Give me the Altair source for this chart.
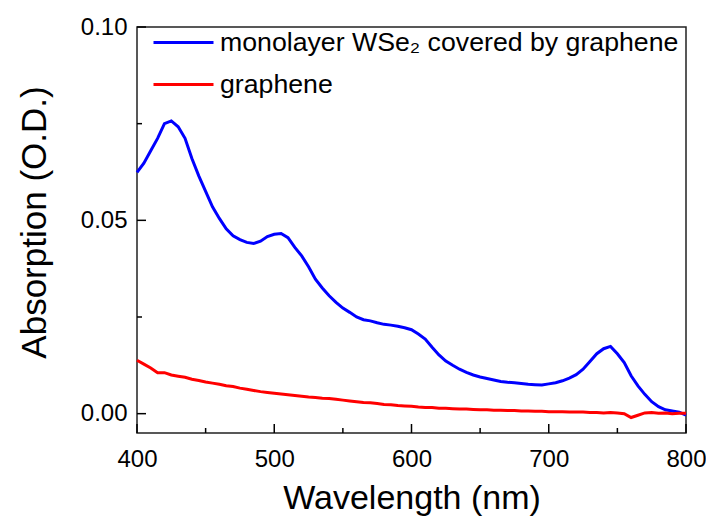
import altair as alt
import pandas as pd

# ---------------- data ----------------
WAVELENGTH = list(range(400, 801, 5))

WSE2_ON_GRAPHENE = [
    0.0624, 0.0648, 0.0680, 0.0712, 0.0750, 0.0757, 0.0742, 0.0712, 0.0660, 0.0615,  # 400-445
    0.0575, 0.0535, 0.0505, 0.0478, 0.0460, 0.0450, 0.0443, 0.0440, 0.0446, 0.0458,  # 450-495
    0.0464, 0.0466, 0.0455, 0.0430, 0.0408, 0.0380, 0.0348, 0.0325, 0.0305, 0.0288,  # 500-545
    0.0273, 0.0262, 0.0250, 0.0243, 0.0240, 0.0235, 0.0231, 0.0229, 0.0226, 0.0222,  # 550-595
    0.0217, 0.0206, 0.0193, 0.0172, 0.0152, 0.0136, 0.0125, 0.0115, 0.0107, 0.0100,  # 600-645
    0.0095, 0.0091, 0.0087, 0.0083, 0.0081, 0.0080, 0.0078, 0.0076, 0.0075, 0.0074,  # 650-695
    0.0077, 0.0080, 0.0085, 0.0092, 0.0101, 0.0115, 0.0135, 0.0155, 0.0168, 0.0174,  # 700-745
    0.0155, 0.0132, 0.0098, 0.0072, 0.0050, 0.0031, 0.0018, 0.0010, 0.0007, 0.0004,  # 750-795
    -0.0004,                                                                          # 800
]

GRAPHENE = [
    0.0138, 0.0128, 0.0118, 0.0106, 0.0106, 0.0100, 0.0097, 0.0094, 0.0089, 0.0086,  # 400-445
    0.0082, 0.0079, 0.0076, 0.0072, 0.0070, 0.0066, 0.0063, 0.0060, 0.0057, 0.0055,  # 450-495
    0.0053, 0.0051, 0.0049, 0.0047, 0.0045, 0.0043, 0.0042, 0.0040, 0.0039, 0.0037,  # 500-545
    0.0035, 0.0033, 0.0031, 0.0029, 0.0028, 0.0026, 0.0024, 0.0023, 0.0021, 0.0020,  # 550-595
    0.0019, 0.0017, 0.0016, 0.0016, 0.0014, 0.0014, 0.0013, 0.0012, 0.0012, 0.0011,  # 600-645
    0.0010, 0.0010, 0.0009, 0.0009, 0.0008, 0.0008, 0.0007, 0.0007, 0.0006, 0.0006,  # 650-695
    0.0005, 0.0005, 0.0005, 0.0004, 0.0004, 0.0004, 0.0003, 0.0003, 0.0002, 0.0003,  # 700-745
    0.0002, 0.0000, -0.0010, -0.0004, 0.0002, 0.0003, 0.0001, 0.0002, 0.0000, 0.0001,  # 750-795
    0.0001,                                                                            # 800
]

SERIES = ["monolayer WSe\u2082 covered by graphene", "graphene"]
COLORS = ["#0000ff", "#ff0000"]

X_DOMAIN = [400, 800]
Y_DOMAIN = [-0.005, 0.10]
X_MAJOR = [400, 500, 600, 700, 800]
X_MINOR = [450, 550, 650, 750]
Y_MAJOR = [0.0, 0.05, 0.10]
Y_MINOR = [0.025, 0.075]

# ---------------- chart ----------------
W, H = 549, 406
FONT = "Liberation Sans"
MAJOR_LEN, MINOR_LEN = 9, 5

n = len(WAVELENGTH)
df = pd.DataFrame({
    "wavelength": WAVELENGTH + WAVELENGTH,
    "absorption": WSE2_ON_GRAPHENE + GRAPHENE,
    "series": [SERIES[0]] * n + [SERIES[1]] * n,
})

xscale = alt.Scale(domain=X_DOMAIN, nice=False, zero=False)
yscale = alt.Scale(domain=Y_DOMAIN, nice=False, zero=False)

main = alt.Chart(df).mark_line(strokeWidth=3).encode(
    x=alt.X(
        "wavelength:Q", scale=xscale,
        axis=alt.Axis(
            orient="bottom", values=X_MAJOR, format="d", ticks=False, tickSize=0,
            domain=False, grid=False, labelPadding=33, labelBaseline="alphabetic",
            labelFlush=False, labelFontSize=24, labelFont=FONT, labelColor="black",
            title="Wavelength (nm)", titleFontSize=34, titleFont=FONT,
            titleFontWeight="normal", titleColor="black", titleY=75,
            titleBaseline="alphabetic",
        ),
    ),
    y=alt.Y(
        "absorption:Q", scale=yscale,
        axis=alt.Axis(
            orient="left", values=Y_MAJOR, format=".2f", ticks=False, tickSize=0,
            domain=False, grid=False, labelPadding=10, labelFlush=False,
            labelFontSize=24, labelFont=FONT, labelColor="black",
            title="Absorption (O.D.)", titleFontSize=35, titleFont=FONT,
            titleFontWeight="normal", titleColor="black", titleAngle=270,
            titleX=-92, titleY=195, titleBaseline="alphabetic",
        ),
    ),
    color=alt.Color(
        "series:N",
        scale=alt.Scale(domain=SERIES, range=COLORS),
        legend=alt.Legend(
            title=None, orient="none", legendX=30, legendY=-1, padding=0,
            symbolType="M-2,0L2,0", symbolSize=900, symbolStrokeWidth=3,
            labelFontSize=26.7, labelFont=FONT, labelColor="black",
            labelOffset=20, rowPadding=11, labelLimit=700,
        ),
    ),
)


def x_ticks(values, length):
    return alt.Chart(pd.DataFrame({"wavelength": values})).mark_rule(
        color="black", strokeWidth=1.5
    ).encode(
        x=alt.X("wavelength:Q", scale=xscale, axis=None),
        y=alt.value(H),
        y2=alt.value(H - length),
    )


def y_ticks(values, length):
    return alt.Chart(pd.DataFrame({"absorption": values})).mark_rule(
        color="black", strokeWidth=1.5
    ).encode(
        y=alt.Y("absorption:Q", scale=yscale, axis=None),
        x=alt.value(0),
        x2=alt.value(length),
    )


chart = (
    alt.layer(
        main,
        x_ticks(X_MAJOR, MAJOR_LEN), x_ticks(X_MINOR, MINOR_LEN),
        y_ticks(Y_MAJOR, MAJOR_LEN), y_ticks(Y_MINOR, MINOR_LEN),
    )
    .resolve_axis(x="independent", y="independent")
    .properties(
        width=W, height=H,
        autosize=alt.AutoSizeParams(type="none"),
        padding={"left": 129, "top": 19, "right": 20, "bottom": 90},
        background="white",
    )
    .configure_view(stroke="#222222", strokeWidth=1.5)
)

chart.save("out.html", embed_options={"renderer": "svg", "actions": False})
